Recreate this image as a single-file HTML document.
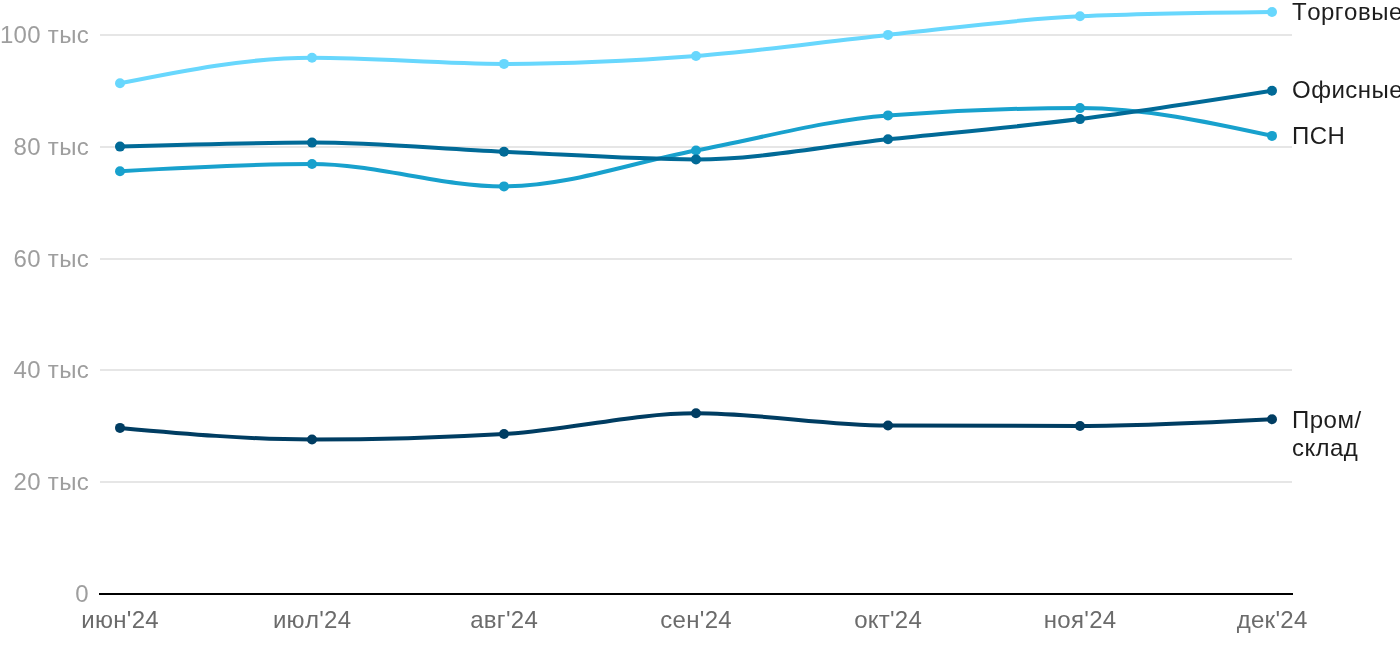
<!DOCTYPE html>
<html><head><meta charset="utf-8"><style>
html,body{margin:0;padding:0;background:#fff;width:1400px;height:650px;overflow:hidden}
svg{display:block;will-change:transform}
text{font-family:"Liberation Sans",sans-serif;font-size:24px;font-kerning:none}
.yl{fill:#9e9e9e;letter-spacing:0.3px}
.xl{fill:#6b6b6b;letter-spacing:0.3px}
.lb{fill:#1d1d1d;letter-spacing:0.5px}
</style></head><body>
<svg width="1400" height="650" viewBox="0 0 1400 650">
<rect x="100" y="34" width="1192" height="2" fill="#e6e6e6"/>
<rect x="100" y="146" width="1192" height="2" fill="#e6e6e6"/>
<rect x="100" y="258" width="1192" height="2" fill="#e6e6e6"/>
<rect x="100" y="369" width="1192" height="2" fill="#e6e6e6"/>
<rect x="100" y="481" width="1192" height="2" fill="#e6e6e6"/>
<rect x="99" y="593" width="1194" height="2" fill="#000"/>
<text x="89" y="43.0" text-anchor="end" class="yl">100 тыс</text>
<text x="89" y="154.8" text-anchor="end" class="yl">80 тыс</text>
<text x="89" y="266.6" text-anchor="end" class="yl">60 тыс</text>
<text x="89" y="378.4" text-anchor="end" class="yl">40 тыс</text>
<text x="89" y="490.2" text-anchor="end" class="yl">20 тыс</text>
<text x="89" y="602" text-anchor="end" class="yl">0</text>
<text x="120.15" y="628" text-anchor="middle" class="xl">июн'24</text>
<text x="312.15" y="628" text-anchor="middle" class="xl">июл'24</text>
<text x="504.15" y="628" text-anchor="middle" class="xl">авг'24</text>
<text x="696.15" y="628" text-anchor="middle" class="xl">сен'24</text>
<text x="888.15" y="628" text-anchor="middle" class="xl">окт'24</text>
<text x="1080.15" y="628" text-anchor="middle" class="xl">ноя'24</text>
<text x="1272.15" y="628" text-anchor="middle" class="xl">дек'24</text>
<path d="M120.00,83.30C184.00,70.50,248.00,57.70,312.00,57.70C376.00,57.70,440.00,63.90,504.00,63.90C568.00,63.90,632.00,60.83,696.00,56.00C760.00,51.17,824.00,41.52,888.00,34.90C952.00,28.28,1016.00,19.17,1080.00,16.30C1144.00,13.43,1208.00,12.72,1272.00,12.00" fill="none" stroke="#68d7fd" stroke-width="4" stroke-linecap="round" stroke-linejoin="round"/>
<circle cx="120" cy="83.3" r="5" fill="#68d7fd"/>
<circle cx="312" cy="57.7" r="5" fill="#68d7fd"/>
<circle cx="504" cy="63.9" r="5" fill="#68d7fd"/>
<circle cx="696" cy="56" r="5" fill="#68d7fd"/>
<circle cx="888" cy="34.9" r="5" fill="#68d7fd"/>
<circle cx="1080" cy="16.3" r="5" fill="#68d7fd"/>
<circle cx="1272" cy="12" r="5" fill="#68d7fd"/>
<path d="M120.00,171.20C184.00,167.60,248.00,164.00,312.00,164.00C376.00,164.00,440.00,186.40,504.00,186.40C568.00,186.40,632.00,162.33,696.00,150.50C760.00,138.67,824.00,120.27,888.00,115.40C952.00,110.53,1016.00,108.10,1080.00,108.10C1144.00,108.10,1208.00,122.00,1272.00,135.90" fill="none" stroke="#18a1cd" stroke-width="4" stroke-linecap="round" stroke-linejoin="round"/>
<circle cx="120" cy="171.2" r="5" fill="#18a1cd"/>
<circle cx="312" cy="164" r="5" fill="#18a1cd"/>
<circle cx="504" cy="186.4" r="5" fill="#18a1cd"/>
<circle cx="696" cy="150.5" r="5" fill="#18a1cd"/>
<circle cx="888" cy="115.4" r="5" fill="#18a1cd"/>
<circle cx="1080" cy="108.1" r="5" fill="#18a1cd"/>
<circle cx="1272" cy="135.9" r="5" fill="#18a1cd"/>
<path d="M120.00,146.60C184.00,144.60,248.00,142.60,312.00,142.60C376.00,142.60,440.00,149.00,504.00,151.80C568.00,154.60,632.00,159.40,696.00,159.40C760.00,159.40,824.00,146.02,888.00,139.30C952.00,132.58,1016.00,127.18,1080.00,119.10C1144.00,111.02,1208.00,100.91,1272.00,90.80" fill="none" stroke="#016a97" stroke-width="4" stroke-linecap="round" stroke-linejoin="round"/>
<circle cx="120" cy="146.6" r="5" fill="#016a97"/>
<circle cx="312" cy="142.6" r="5" fill="#016a97"/>
<circle cx="504" cy="151.8" r="5" fill="#016a97"/>
<circle cx="696" cy="159.4" r="5" fill="#016a97"/>
<circle cx="888" cy="139.3" r="5" fill="#016a97"/>
<circle cx="1080" cy="119.1" r="5" fill="#016a97"/>
<circle cx="1272" cy="90.8" r="5" fill="#016a97"/>
<path d="M120.00,427.90C184.00,433.70,248.00,439.50,312.00,439.50C376.00,439.50,440.00,437.67,504.00,434.00C568.00,430.33,632.00,413.30,696.00,413.30C760.00,413.30,824.00,425.17,888.00,425.50C952.00,425.83,1016.00,426.00,1080.00,426.00C1144.00,426.00,1208.00,422.65,1272.00,419.30" fill="none" stroke="#003d62" stroke-width="4" stroke-linecap="round" stroke-linejoin="round"/>
<circle cx="120" cy="427.9" r="5" fill="#003d62"/>
<circle cx="312" cy="439.5" r="5" fill="#003d62"/>
<circle cx="504" cy="434" r="5" fill="#003d62"/>
<circle cx="696" cy="413.3" r="5" fill="#003d62"/>
<circle cx="888" cy="425.5" r="5" fill="#003d62"/>
<circle cx="1080" cy="426" r="5" fill="#003d62"/>
<circle cx="1272" cy="419.3" r="5" fill="#003d62"/>

<text x="1292" y="20" class="lb">Торговые</text>
<text x="1292" y="98" class="lb">Офисные</text>
<text x="1292" y="144" class="lb">ПСН</text>
<text x="1292" y="428" class="lb">Пром/</text>
<text x="1292" y="455.5" class="lb">склад</text>
</svg>
</body></html>
